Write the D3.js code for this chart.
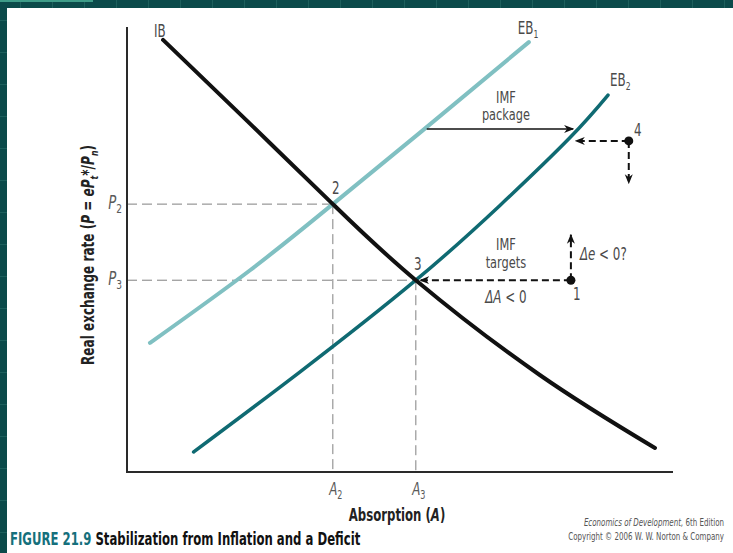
<!DOCTYPE html>
<html>
<head>
<meta charset="utf-8">
<script src="https://cdn.jsdelivr.net/npm/d3@7"></script>
<style>
  body { margin: 0; background: #0b4a4a; }
  svg text { font-family: "DejaVu Sans", sans-serif; }
</style>
</head>
<body>
<div id="chart"></div>
<script>
// curves (absorption A, real exchange rate P, 0..10 units)
var ibA  = [0.66, 2.2, 3.77, 5.29, 7.56, 9.67];
var ibP  = [9.71, 7.89, 6.02, 4.31, 2.18, 0.54];
var eb1A = [0.42, 2.26, 3.77, 5.4, 7.36];
var eb1P = [2.90, 4.54, 6.02, 7.66, 9.66];
var eb2A = [1.22, 3.17, 5.29, 6.83, 8.11, 8.81];
var eb2P = [0.45, 2.25, 4.31, 5.99, 7.51, 8.47];

// numbered points
var pointIds = ['2', '3', '1', '4'];
var pointA   = [3.77, 5.29, 8.13, 9.19];
var pointP   = [6.02, 4.31, 4.31, 7.44];

// arrows: [A0, P0, A1, P1, dashed]
var arrows = [
	[5.49, 7.71, 8.17, 7.71, false],
	[9.19, 7.44, 8.22, 7.44, true],
	[9.19, 7.44, 9.19, 6.49, true],
	[8.13, 4.31, 5.37, 4.31, true],
	[8.13, 4.31, 8.13, 5.33, true]
];

var W = 733, H = 553;
var x = d3.scaleLinear().domain([0, 10]).range([127, 673]),
	y = d3.scaleLinear().domain([0, 10]).range([472, 27]);

var svg = d3.select('#chart').append('svg')
	.attr('width', W)
	.attr('height', H)
	.style('display', 'block');

// teal frame with faint grid
svg.append('rect').attr('width', W).attr('height', H).attr('fill', '#0b4a4a');
var grid = svg.append('g').attr('stroke', '#1d5f5c').attr('stroke-width', 1);
for (var gx = 20; gx < W; gx += 32) {
	grid.append('line').attr('x1', gx + 0.5).attr('x2', gx + 0.5).attr('y1', 0).attr('y2', H);
}
for (var gy = 20; gy < H; gy += 32) {
	grid.append('line').attr('y1', gy + 0.5).attr('y2', gy + 0.5).attr('x1', 0).attr('x2', W);
}
svg.append('line').attr('x1', 0).attr('x2', 93).attr('y1', 1).attr('y2', 1)
	.attr('stroke', '#3e9c88').attr('stroke-width', 2);
svg.append('rect').attr('x', 7).attr('y', 8).attr('width', W - 7).attr('height', H - 8).attr('fill', '#fff');

// arrow heads
var defs = svg.append('defs');
defs.append('marker')
	.attr('id', 'head')
	.attr('viewBox', '0 0 10 10')
	.attr('refX', 9).attr('refY', 5)
	.attr('markerWidth', 10).attr('markerHeight', 10)
	.attr('markerUnits', 'userSpaceOnUse')
	.attr('orient', 'auto')
	.append('path')
	.attr('d', 'M0,1 L10,5 L0,9 L3,5 Z')
	.attr('fill', '#111');

// guide lines
var guides = svg.append('g')
	.attr('stroke', '#808080').attr('stroke-width', 1).attr('stroke-dasharray', '10,5').attr('fill', 'none');
[0, 1].forEach(function(i){
	guides.append('line').attr('x1', x(0)).attr('x2', x(pointA[i])).attr('y1', y(pointP[i])).attr('y2', y(pointP[i]));
	guides.append('line').attr('x1', x(pointA[i])).attr('x2', x(pointA[i])).attr('y1', y(pointP[i])).attr('y2', y(0));
});

// axes
var axes = svg.append('g').attr('stroke', '#2a2a2a').attr('stroke-width', 2);
axes.append('line').attr('x1', x(0)).attr('x2', x(0)).attr('y1', y(10)).attr('y2', y(0) + 1);
axes.append('line').attr('x1', x(0)).attr('x2', x(10)).attr('y1', y(0)).attr('y2', y(0));

// curves
var line = d3.line()
	.x(function(d){ return x(d[0]); })
	.y(function(d){ return y(d[1]); })
	.curve(d3.curveNatural);

var zip = function(a, p){ return a.map(function(v, i){ return [v, p[i]]; }); };

svg.append('path').datum(zip(eb1A, eb1P))
	.attr('d', line).attr('fill', 'none')
	.attr('stroke', '#80c0c2').attr('stroke-width', 4).attr('stroke-linecap', 'round');
svg.append('path').datum(zip(eb2A, eb2P))
	.attr('d', line).attr('fill', 'none')
	.attr('stroke', '#0f6a72').attr('stroke-width', 3.5).attr('stroke-linecap', 'round');
svg.append('path').datum(zip(ibA, ibP))
	.attr('d', line).attr('fill', 'none')
	.attr('stroke', '#111').attr('stroke-width', 4).attr('stroke-linecap', 'round');

// arrows
svg.append('g').selectAll('line').data(arrows)
	.enter().append('line')
	.attr('x1', function(d){ return x(d[0]); })
	.attr('y1', function(d){ return y(d[1]); })
	.attr('x2', function(d){ return x(d[2]); })
	.attr('y2', function(d){ return y(d[3]); })
	.attr('stroke', '#111')
	.attr('stroke-width', function(d){ return d[4] ? 2 : 1.5; })
	.attr('stroke-dasharray', function(d){ return d[4] ? '7,4' : null; })
	.attr('marker-end', 'url(#head)');

// dots at 1 and 4
svg.append('g').selectAll('circle').data([2, 3])
	.enter().append('circle')
	.attr('cx', function(i){ return x(pointA[i]); })
	.attr('cy', function(i){ return y(pointP[i]); })
	.attr('r', 4.5).attr('fill', '#111');

// narrow text: the original face is a condensed one, so squeeze DejaVu horizontally
var NARROW = 0.7;
var lab = svg.append('g').attr('fill', '#4a4a4a').attr('font-size', 17);
var txt = function(px, py, s, anchor, sx){
	return lab.append('text')
		.attr('transform', 'translate(' + px + ',' + py + ') scale(' + (sx || NARROW) + ',1)')
		.attr('text-anchor', anchor || 'start').text(s);
};
var sub = function(t, s, size){
	t.append('tspan').attr('font-size', size || 11).attr('dy', 4).text(s);
};

txt(x(ibA[0]) - 9, y(ibP[0]) - 3, 'IB');
sub(txt(x(eb1A[eb1A.length - 1]) - 11, y(eb1P[eb1P.length - 1]) - 8, 'EB'), '1');
sub(txt(x(eb2A[eb2A.length - 1]) + 2, y(eb2P[eb2P.length - 1]) - 9, 'EB'), '2');

txt(x(pointA[0]) + 3, y(pointP[0]) - 10, pointIds[0], 'middle');
txt(x(pointA[1]) + 2, y(pointP[1]) - 10, pointIds[1], 'middle');
txt(x(pointA[2]) + 6, y(pointP[2]) + 20, pointIds[2], 'middle');
txt(x(pointA[3]) + 9, y(pointP[3]) - 5, pointIds[3], 'middle');

// two-line notes, a little smaller so the lines do not collide
txt(x(6.94), y(8.29), 'IMF', 'middle', 0.76).attr('font-size', 15);
txt(x(6.94), y(8.29) + 17, 'package', 'middle', 0.76).attr('font-size', 15);
txt(x(6.94), y(4.31) - 30, 'IMF', 'middle', 0.76).attr('font-size', 15);
txt(x(6.94), y(4.31) - 12, 'targets', 'middle', 0.76).attr('font-size', 15);

var dA = txt(x(6.94), y(4.31) + 23, '', 'middle');
dA.append('tspan').attr('font-style', 'italic').text('ΔA');
dA.append('tspan').text(' < 0');
var de = txt(x(8.13) + 9, y(4.31) - 20, '', 'start');
de.append('tspan').attr('font-style', 'italic').text('Δe');
de.append('tspan').text(' < 0?');

// P2, P3, A2, A3
var subLab = function(px, py, s, sb, anchor, size){
	var t = txt(px, py, '', anchor).attr('font-size', size).attr('fill', '#5a5a5a');
	t.append('tspan').attr('font-style', 'italic').text(s);
	sub(t, sb, size * 0.68);
};
subLab(x(0) - 5, y(pointP[0]) + 5, 'P', '2', 'end', 19);
subLab(x(0) - 5, y(pointP[1]) + 5, 'P', '3', 'end', 19);
subLab(x(pointA[0]) + 3, y(0) + 23, 'A', '2', 'middle', 17);
subLab(x(pointA[1]) + 3, y(0) + 23, 'A', '3', 'middle', 17);

// axis titles
var xt = svg.append('text')
	.attr('transform', 'translate(397,521) scale(0.69,1)')
	.attr('text-anchor', 'middle').attr('font-size', 17).attr('font-weight', 'bold').attr('fill', '#222');
xt.append('tspan').text('Absorption (');
xt.append('tspan').attr('font-style', 'italic').text('A');
xt.append('tspan').text(')');

var yt = svg.append('text')
	.attr('transform', 'translate(94,255) rotate(-90) scale(0.71,1)')
	.attr('text-anchor', 'middle').attr('font-size', 17).attr('font-weight', 'bold').attr('fill', '#222');
yt.append('tspan').text('Real exchange rate (');
yt.append('tspan').attr('font-style', 'italic').text('P');
yt.append('tspan').text(' = ');
yt.append('tspan').attr('font-style', 'italic').text('eP');
yt.append('tspan').attr('font-size', 11).attr('dy', 4).attr('font-style', 'italic').text('t');
yt.append('tspan').attr('dy', -4).text('*/');
yt.append('tspan').attr('font-style', 'italic').text('P');
yt.append('tspan').attr('font-size', 11).attr('dy', 4).attr('font-style', 'italic').text('n');
yt.append('tspan').attr('dy', -4).text(')');

// caption
var cap = svg.append('text')
	.attr('transform', 'translate(10,545) scale(0.65,1)')
	.attr('font-size', 18).attr('font-weight', 'bold').attr('fill', '#111');
cap.append('tspan').attr('fill', '#15707c').text('FIGURE 21.9 ');
cap.append('tspan').text('Stabilization from Inflation and a Deficit');

var cr = svg.append('g').attr('fill', '#555').attr('font-size', 10).attr('text-anchor', 'end');
var c1 = cr.append('text').attr('transform', 'translate(724,526) scale(0.71,1)');
c1.append('tspan').attr('font-style', 'italic').text('Economics of Development,');
c1.append('tspan').text(' 6th Edition');
cr.append('text').attr('transform', 'translate(724,540) scale(0.71,1)')
	.text('Copyright \u00A9 2006 W. W. Norton & Company');
</script>
</body>
</html>
